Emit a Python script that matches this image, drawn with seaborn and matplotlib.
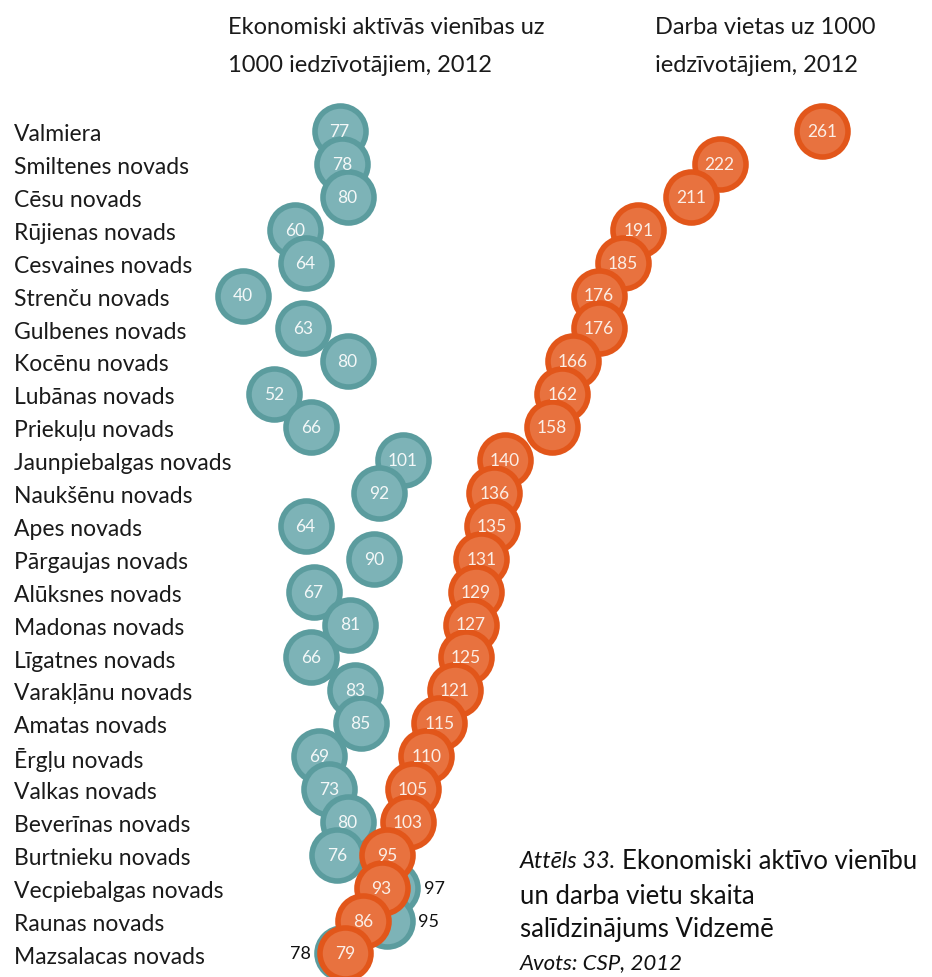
import matplotlib
matplotlib.use("Agg")
import matplotlib.pyplot as plt
import seaborn as sns
import pandas as pd

sns.set_theme(style="white")
plt.rcParams['font.family'] = ['Lato', 'DejaVu Sans']

# data
regions = ["Valmiera", "Smiltenes novads", "Cēsu novads", "Rūjienas novads", "Cesvaines novads",
           "Strenču novads", "Gulbenes novads", "Kocēnu novads", "Lubānas novads", "Priekuļu novads",
           "Jaunpiebalgas novads", "Naukšēnu novads", "Apes novads", "Pārgaujas novads",
           "Alūksnes novads", "Madonas novads", "Līgatnes novads", "Varakļānu novads",
           "Amatas novads", "Ērgļu novads", "Valkas novads", "Beverīnas novads",
           "Burtnieku novads", "Vecpiebalgas novads", "Raunas novads", "Mazsalacas novads"]
units = [77, 78, 80, 60, 64, 40, 63, 80, 52, 66, 101, 92, 64, 90, 67, 81, 66, 83, 85, 69,
         73, 80, 76, 97, 95, 78]
jobs = [261, 222, 211, 191, 185, 176, 176, 166, 162, 158, 140, 136, 135, 131, 129, 127,
        125, 121, 115, 110, 105, 103, 95, 93, 86, 79]
# teal labels that sit outside the circle (hidden under orange ones)
outside_right = ["Vecpiebalgas novads", "Raunas novads"]
outside_left = ["Mazsalacas novads"]

df = pd.DataFrame({"region": regions, "units": units, "jobs": jobs})
df["row"] = range(len(df))

teal_face, teal_edge = "#7db3b7", "#5b9c9e"
orange_face, orange_edge = "#e8723f", "#e2561a"
txt = "#1a1a1a"

fig = plt.figure(figsize=(9.32, 9.78), dpi=100)
ax = fig.add_axes([0, 0, 1, 1])

sns.scatterplot(data=df, x="units", y="row", s=1350, color=teal_face, edgecolor=teal_edge,
                linewidth=4, ax=ax, zorder=2, legend=False)
for _, r in df.iterrows():
    if r["region"] in outside_right:
        ax.text(r["units"] + 12, r["row"], str(r["units"]), ha="left", va="center",
                fontsize=13, color="#111111", zorder=5)
    elif r["region"] in outside_left:
        ax.text(r["units"] - 12, r["row"], str(r["units"]), ha="right", va="center",
                fontsize=13, color="#111111", zorder=5)
    else:
        ax.text(r["units"], r["row"], str(r["units"]), ha="center", va="center",
                fontsize=12.5, color="#f4f8f8", zorder=3)

sns.scatterplot(data=df, x="jobs", y="row", s=1350, color=orange_face, edgecolor=orange_edge,
                linewidth=4, ax=ax, zorder=4, legend=False)
for _, r in df.iterrows():
    ax.text(r["jobs"], r["row"], str(r["jobs"]), ha="center", va="center",
            fontsize=12.5, color="#fbeee6", zorder=5)

# region names on the left
for _, r in df.iterrows():
    ax.text(0.015, r["row"] + 0.08, r["region"], transform=ax.get_yaxis_transform(),
            ha="left", va="center", fontsize=16.5, color=txt)

# scale: ~2.62 px per unit, zero at x=138px; rows 32.9 px apart starting at y=132px
ax.set_xlim(-138 / 2.62, (932 - 138) / 2.62)
ax.set_ylim((978 - 132) / 32.9, -132 / 32.9)
ax.axis("off")

# column headers
fig.text(228 / 932, 1 - 27 / 978, "Ekonomiski aktīvās vienības uz", fontsize=17,
         va="center", ha="left", color=txt)
fig.text(228 / 932, 1 - 66 / 978, "1000 iedzīvotājiem, 2012", fontsize=17,
         va="center", ha="left", color=txt)
fig.text(655 / 932, 1 - 27 / 978, "Darba vietas uz 1000", fontsize=17,
         va="center", ha="left", color=txt)
fig.text(655 / 932, 1 - 66 / 978, "iedzīvotājiem, 2012", fontsize=17,
         va="center", ha="left", color=txt)

# caption
t = fig.text(520 / 932, 1 - 862 / 978, "Attēls 33. ", fontsize=17, style="italic",
             va="center", ha="left", color="#111111")
fig.canvas.draw()
bb = t.get_window_extent()
fig.text(bb.x1 / fig.bbox.width, 1 - 862 / 978, "Ekonomiski aktīvo vienību", fontsize=18.5,
         va="center", ha="left", color="#111111")
fig.text(520 / 932, 1 - 897 / 978, "un darba vietu skaita", fontsize=18.5,
         va="center", ha="left", color="#111111")
fig.text(520 / 932, 1 - 930 / 978, "salīdzinājums Vidzemē", fontsize=18.5,
         va="center", ha="left", color="#111111")
fig.text(520 / 932, 1 - 963 / 978, "Avots: CSP, 2012", fontsize=16, style="italic",
         va="center", ha="left", color="#111111")

fig.savefig("out.png", dpi=100)
